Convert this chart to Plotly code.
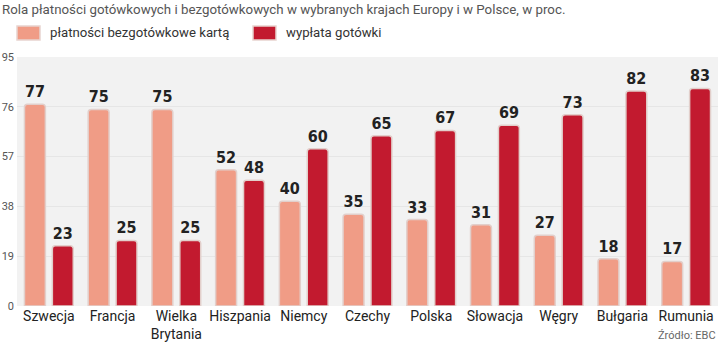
import plotly.graph_objects as go

categories = ["Szwecja", "Francja", "Wielka<br>Brytania", "Hiszpania", "Niemcy", "Czechy",
              "Polska", "Słowacja", "Węgry", "Bułgaria", "Rumunia"]
card = [77, 75, 75, 52, 40, 35, 33, 31, 27, 18, 17]
cash = [23, 25, 25, 48, 60, 65, 67, 69, 73, 82, 83]
y_ticks = [0, 19, 38, 57, 76, 95]
series_names = ["płatności bezgotówkowe kartą", "wypłata gotówki"]
title_text = "Rola płatności gotówkowych i bezgotówkowych w wybranych krajach Europy i w Polsce, w proc."
source_text = "Źródło: EBC"

c_light = "#f09c86"
c_dark = "#c21a2f"
label_font = dict(family="DejaVu Sans Condensed", size=16, color="#222222", weight="bold")

fig = go.Figure()
for vals, col, name in [(card, c_light, series_names[0]), (cash, c_dark, series_names[1])]:
    fig.add_trace(go.Bar(
        x=categories, y=vals, name=name,
        marker=dict(color=col, line=dict(color="#e2cfcb", width=1.5), cornerradius=3),
        text=[str(v) for v in vals], textposition="outside", textfont=label_font,
        cliponaxis=False, showlegend=False,
    ))

fig.update_layout(
    width=720, height=347,
    margin=dict(l=17, r=2, t=57, b=41),
    paper_bgcolor="white", plot_bgcolor="#f2f2f2",
    barmode="group", bargap=0.125, bargroupgap=0.25,
    font=dict(family="Roboto", color="#333333"),
    xaxis=dict(showgrid=False, ticks="", showline=False,
               tickfont=dict(family="Roboto", size=14, color="#222222")),
    yaxis=dict(range=[0, 95], tickvals=y_ticks, showgrid=True, gridcolor="#e6e6e6",
               gridwidth=1, zeroline=False, showline=False, ticks="",
               tickfont=dict(family="Roboto", size=11, color="#555555"), ticklabelstandoff=2),
)

# title
fig.add_annotation(text=title_text, xref="paper", yref="paper", x=-17/701, y=1 + 48/249,
                   xanchor="left", yanchor="middle", showarrow=False,
                   font=dict(family="Roboto", size=13.3, color="#555555"))
# legend (manual swatches)
legend_items = [(series_names[0], c_light, 17), (series_names[1], c_dark, 253)]
for name, col, x0 in legend_items:
    fig.add_shape(type="rect", xref="paper", yref="paper",
                  x0=(x0 - 17) / 701, x1=(x0 + 23 - 17) / 701,
                  y0=1 + 17 / 249, y1=1 + 31 / 249,
                  fillcolor=col, line=dict(color="#e8d4d0", width=1.5))
    fig.add_annotation(text=name, xref="paper", yref="paper", x=(x0 + 31 - 17) / 701,
                       y=1 + 24 / 249, xanchor="left", yanchor="middle", showarrow=False,
                       font=dict(family="Roboto", size=13.2, color="#333333"))
# source
fig.add_annotation(text=source_text, xref="paper", yref="paper", x=1, y=-38 / 249,
                   xanchor="right", yanchor="bottom", showarrow=False,
                   font=dict(family="Roboto", size=11, color="#666666"))

fig.write_html("out.html")
